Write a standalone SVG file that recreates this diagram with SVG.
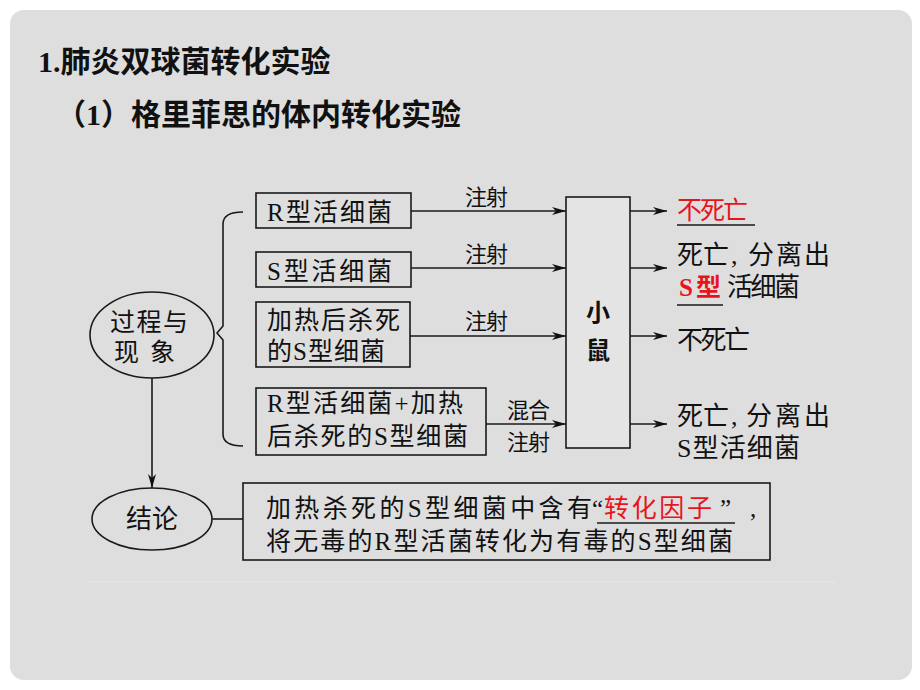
<svg xmlns="http://www.w3.org/2000/svg" width="920" height="690" viewBox="0 0 920 690">
<defs>
<style>
.ln{fill:none;stroke:#1a1a1a;stroke-width:1.6}
.bx{fill:none;stroke:#1a1a1a;stroke-width:1.6}
.t{font-family:"Liberation Serif","Noto Sans CJK SC",serif;font-size:25px;fill:#111}
.lb{font-family:"Liberation Serif","Noto Sans CJK SC",serif;font-size:22px;fill:#111}
.red{fill:#e8141c}
.h{font-family:"Liberation Serif","Noto Sans CJK SC",sans-serif;font-weight:bold;font-size:30px;fill:#111}
</style>
<marker id="ar" viewBox="0 0 14 8" markerWidth="14" markerHeight="8" refX="14" refY="4" orient="auto" markerUnits="userSpaceOnUse">
<path d="M0,0 L14,4 L0,8 L4,4 z" fill="#111"/>
</marker>
</defs>
<rect width="920" height="690" fill="#ffffff"/>
<rect x="10" y="10" width="902" height="670" rx="14" fill="#dedede"/>
<line x1="88" y1="582" x2="835" y2="582" stroke="#e8e8e8" stroke-width="1"/>

<g id="title">
<text class="h" x="38" y="72">1.肺炎双球菌转化实验</text>
<text class="h" x="56" y="125">（1）格里菲思的体内转化实验</text>
</g>

<g id="connectors">
<path class="ln" d="M243,212 Q223,212 223,224 L223,326 L217,333 L223,340 L223,434 Q223,446 243,446"/>
<line class="ln" x1="411" y1="211" x2="566" y2="211" marker-end="url(#ar)"/>
<line class="ln" x1="411" y1="268" x2="566" y2="268" marker-end="url(#ar)"/>
<line class="ln" x1="410" y1="336" x2="566" y2="336" marker-end="url(#ar)"/>
<line class="ln" x1="486" y1="424" x2="566" y2="424" marker-end="url(#ar)"/>
<line class="ln" x1="630" y1="211" x2="667" y2="211" marker-end="url(#ar)"/>
<line class="ln" x1="630" y1="268" x2="667" y2="268" marker-end="url(#ar)"/>
<line class="ln" x1="630" y1="336" x2="667" y2="336" marker-end="url(#ar)"/>
<line class="ln" x1="630" y1="424" x2="667" y2="424" marker-end="url(#ar)"/>
<line class="ln" x1="152" y1="378" x2="152" y2="488" marker-end="url(#ar)"/>
<line class="ln" x1="212" y1="519" x2="243" y2="519"/>
<text class="lb" x="465" y="205" textLength="43">注射</text>
<text class="lb" x="465" y="262" textLength="43">注射</text>
<text class="lb" x="465" y="329" textLength="43">注射</text>
<text class="lb" x="507" y="418" textLength="43">混合</text>
<text class="lb" x="507" y="450" textLength="43">注射</text>
</g>

<g id="process">
<ellipse class="bx" cx="152" cy="335" rx="62" ry="43"/>
<text class="t" x="110" y="331" textLength="78">过程与</text>
<text class="t" x="114" y="361">现</text>
<text class="t" x="150" y="361">象</text>
</g>

<g id="box-r">
<rect class="bx" x="256" y="193" width="155" height="35"/>
<text class="t" x="267" y="221" textLength="125">R型活细菌</text>
</g>
<g id="box-s">
<rect class="bx" x="256" y="252" width="155" height="35"/>
<text class="t" x="267" y="280" textLength="125">S型活细菌</text>
</g>
<g id="box-heat">
<rect class="bx" x="256" y="302" width="154" height="65"/>
<text class="t" x="267" y="329" textLength="133">加热后杀死</text>
<text class="t" x="267" y="360" textLength="118">的S型细菌</text>
</g>
<g id="box-mix">
<rect class="bx" x="256" y="388" width="230" height="67"/>
<text class="t" x="267" y="412" textLength="196">R型活细菌+加热</text>
<text class="t" x="267" y="445" textLength="201">后杀死的S型细菌</text>
</g>

<g id="mouse">
<rect x="566" y="197" width="64" height="251" fill="#e4e4e4" stroke="#1a1a1a" stroke-width="1.6"/>
<text x="598" y="321" text-anchor="middle" style="font-family:'Noto Sans CJK SC',sans-serif;font-weight:bold;font-size:24px;fill:#111">小</text>
<text x="598" y="359" text-anchor="middle" style="font-family:'Noto Sans CJK SC',sans-serif;font-weight:bold;font-size:24px;fill:#111">鼠</text>
</g>

<g id="result1">
<text class="t red" x="677" y="219" textLength="71">不死亡</text>
<line class="ln" x1="677" y1="225" x2="755" y2="225"/>
</g>
<g id="result2">
<text class="t" x="677" y="264" style="font-size:26px">死亡</text>
<text class="t" x="731" y="264" style="font-size:26px">,</text>
<text class="t" x="748" y="264" textLength="82" style="font-size:26px">分离出</text>
<text class="t red" x="679" y="296" style="font-weight:bold" textLength="42">S型</text>
<text class="t" x="727" y="296" textLength="73" style="font-size:26px">活细菌</text>
<line class="ln" x1="677" y1="305" x2="723" y2="305"/>
</g>
<g id="result3">
<text class="t" x="677" y="349" textLength="73" style="font-size:26px">不死亡</text>
</g>
<g id="result4">
<text class="t" x="677" y="425" style="font-size:26px">死亡</text>
<text class="t" x="731" y="425" style="font-size:26px">,</text>
<text class="t" x="746" y="425" textLength="84" style="font-size:26px">分离出</text>
<text class="t" x="677" y="457" textLength="123" style="font-size:26px">S型活细菌</text>
</g>

<g id="conclusion">
<ellipse class="bx" cx="152" cy="519" rx="60" ry="31"/>
<text class="t" x="152" y="528" text-anchor="middle" style="font-size:26px">结论</text>
</g>
<g id="conclusion-box">
<rect class="bx" x="243" y="483" width="527" height="77"/>
<text class="t" x="266" y="517" textLength="326">加热杀死的S型细菌中含有</text>
<text class="t" x="592" y="517">“</text>
<text x="604" y="517" textLength="108" style="font-family:'Noto Sans CJK SC',sans-serif;font-size:25px;fill:#e8141c">转化因子</text>
<text class="t" x="720" y="517">”</text>
<text class="t" x="750" y="517">,</text>
<line class="ln" x1="597" y1="523" x2="735" y2="523"/>
<text class="t" x="266" y="550" textLength="467">将无毒的R型活菌转化为有毒的S型细菌</text>
</g>
</svg>
